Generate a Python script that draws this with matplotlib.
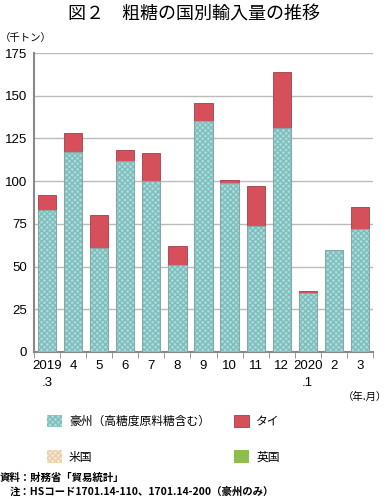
import matplotlib
matplotlib.use("Agg")
import matplotlib.pyplot as plt
import numpy as np

plt.rcParams['font.family'] = ['Noto Sans CJK JP', 'DejaVu Sans']

categories = ["2019\n.3", "4", "5", "6", "7", "8", "9", "10", "11", "12", "2020\n.1", "2", "3"]
australia = [83, 117, 61, 112, 100, 51, 135, 99, 74, 131, 34.5, 59.5, 72]
thailand = [9, 11, 19, 6.5, 16.5, 11, 10.5, 1.5, 23, 33, 1, 0, 13]
usa = [0] * 13
uk = [0] * 13
yticks = [0, 25, 50, 75, 100, 125, 150, 175]

fig = plt.figure(figsize=(3.89, 4.99), dpi=100)
ax = fig.add_axes([34/389, 1-352/499, (373-34)/389, (352-53)/499])

x = np.arange(len(categories))
w = 0.7
aus = np.array(australia)
tha = np.array(thailand)
us = np.array(usa)
gb = np.array(uk)

b1 = ax.bar(x, aus, w, color='#a9dcdc', edgecolor='#7fbcbc', hatch='xxxxxx', lw=0, zorder=3)
ax.bar(x, aus, w, fill=False, edgecolor='#8aa6a6', lw=0.8, zorder=4)
b2 = ax.bar(x, tha, w, bottom=aus, color='#d6505c', edgecolor='#a04048', lw=0.6, zorder=3)
b3 = ax.bar(x, us, w, bottom=aus + tha, color='#f8ead2', edgecolor='#e8cfa8', hatch='xxxxxx', lw=0, zorder=3)
b4 = ax.bar(x, gb, w, bottom=aus + tha + us, color='#8dbd4f', lw=0, zorder=3)

numfont = ['Liberation Sans', 'DejaVu Sans']
ax.set_ylim(0, 175)
ax.set_xlim(-0.5, len(categories) - 0.5)
ax.set_yticks(yticks)
ax.set_yticklabels([str(v) for v in yticks], fontsize=9.5, family=numfont)
ax.yaxis.grid(True, color='#bbbbbb', lw=1.0, zorder=0)
ax.set_xticks(x)
ax.set_xticklabels(categories, fontsize=9.5, linespacing=1.5, family=numfont)
ax.set_xticks(np.arange(-0.5, len(categories), 1), minor=True)
ax.tick_params(axis='x', which='major', length=0, pad=6)
ax.tick_params(axis='x', which='minor', length=4, color='#888888', direction='out')
ax.tick_params(axis='y', length=0, pad=5)
for s in ['top', 'right']:
    ax.spines[s].set_visible(False)
for s in ['left', 'bottom']:
    ax.spines[s].set_color('#888888')
    ax.spines[s].set_linewidth(1.5)

fig.text(194/389, 1-15/499, "図２　粗糖の国別輸入量の推移", ha='center', va='center', fontsize=13)
fig.text(0, 1-38/499, "（千トン）", ha='left', va='center', fontsize=7.5)
fig.text(387/389, 1-397/499, "（年.月）", ha='right', va='center', fontsize=7.5)

leg = fig.legend([b1, b3, b2, b4],
                 ["豪州（高糖度原料糖含む）", "米国", "タイ", "英国"],
                 ncol=2, loc='upper left', bbox_to_anchor=(36/389, 1-404/499),
                 frameon=False, fontsize=8.5, handlelength=1.3, handleheight=1.3,
                 labelspacing=1.9, columnspacing=2.0, handletextpad=0.6)

fig.text(0, 1-478/499, "資料：財務省「貿易統計」", ha='left', va='center', fontsize=7.5, fontweight='bold')
fig.text(10/389, 1-492/499, "注：HSコード1701.14-110、1701.14-200（豪州のみ）", ha='left', va='center', fontsize=7.5, fontweight='bold')

fig.savefig("out.png", dpi=100)
